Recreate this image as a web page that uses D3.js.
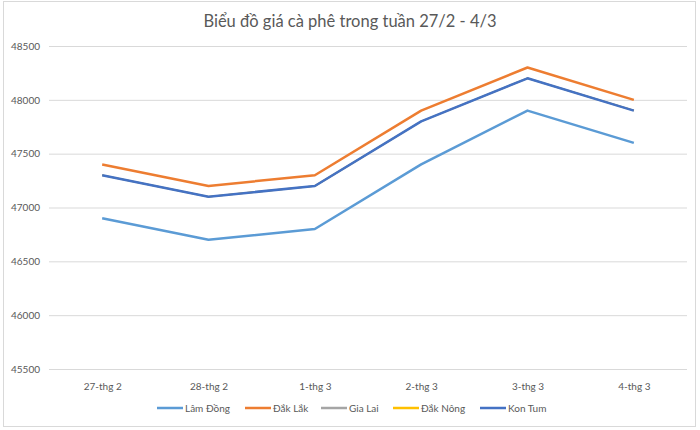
<!DOCTYPE html>
<html><head><meta charset="utf-8">
<script src="https://cdn.jsdelivr.net/npm/d3@7"></script>
<style>html,body{margin:0;padding:0;background:#fff;}svg{display:block;font-family:Lato,"Open Sans",sans-serif;}</style>
</head><body>
<svg id="c" width="700" height="430"></svg>
<script>
const title = "Biểu đồ giá cà phê trong tuần 27/2 - 4/3";
const categories = ["27-thg 2","28-thg 2","1-thg 3","2-thg 3","3-thg 3","4-thg 3"];
const seriesNames = ["Lâm Đồng","Đắk Lắk","Gia Lai","Đắk Nông","Kon Tum"];
const lamDong = [46900,46700,46800,47400,47900,47600];
const dakLak  = [47400,47200,47300,47900,48300,48000];
const giaLai  = [47300,47100,47200,47800,48200,47900];
const dakNong = [47300,47100,47200,47800,48200,47900];
const konTum  = [47300,47100,47200,47800,48200,47900];
const yTicks = [45500,46000,46500,47000,47500,48000,48500];
const colors = ["#5B9BD5","#ED7D31","#A5A5A5","#FFC000","#4472C4"];
const seriesValues = [lamDong, dakLak, giaLai, dakNong, konTum];

const svg = d3.select("#c");
svg.append("rect").attr("x",3.5).attr("y",1.5).attr("width",692).attr("height",425)
  .attr("fill","#fff").attr("stroke","#d9d9d9");

const x = d3.scalePoint().domain(categories).range([49,687]).padding(0.5);
const y = d3.scaleLinear().domain([45500,48500]).range([369,46]);

svg.append("text").attr("x",350).attr("y",27).attr("text-anchor","middle")
  .attr("font-size",16.5).attr("fill","#595959").text(title);

const yAxis = d3.axisLeft(y).tickValues(yTicks).tickSize(-(687-49)).tickFormat(d3.format("d"));
const gy = svg.append("g").attr("transform","translate(49,0)").call(yAxis);
gy.select(".domain").remove();
gy.selectAll(".tick line").attr("stroke","#d9d9d9").attr("stroke-width",1);
gy.selectAll(".tick text").attr("fill","#595959").attr("font-size",10).attr("x",-9)
  .attr("font-family","Lato,'Open Sans',sans-serif");

const xAxis = d3.axisBottom(x).tickSize(0);
const gx = svg.append("g").attr("transform","translate(0,369)").call(xAxis);
gx.select(".domain").remove();
gx.selectAll(".tick text").attr("fill","#595959").attr("font-size",10).attr("dy","1.25em")
  .attr("y",8).attr("font-family","Lato,'Open Sans',sans-serif");

const line = d3.line().x((d,i)=>x(categories[i])).y(d=>y(d));
seriesValues.forEach((vals,k)=>{
  const hidden = (k===2 || k===3);
  svg.append("path").datum(vals).attr("d",line).attr("fill","none")
    .attr("stroke",colors[k]).attr("stroke-width",hidden?1.6:2.5).attr("stroke-linejoin","round");
});

const legendX = [157,245,321,393,480];
const lg = svg.append("g");
seriesNames.forEach((n,k)=>{
  const g = lg.append("g").attr("transform",`translate(${legendX[k]},408)`);
  g.append("line").attr("x1",0).attr("x2",26).attr("y1",0).attr("y2",0)
    .attr("stroke",colors[k]).attr("stroke-width",2.5);
  g.append("text").attr("x",28).attr("y",3.5).attr("font-size",10).attr("fill","#595959").text(n);
});
</script>
</body></html>
